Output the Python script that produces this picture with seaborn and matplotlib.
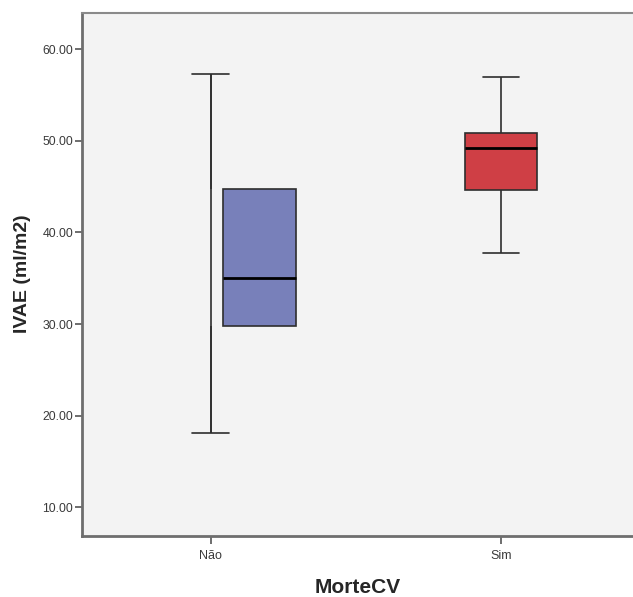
import numpy as np
import pandas as pd
import matplotlib
matplotlib.use('Agg')
import matplotlib.pyplot as plt
import matplotlib.transforms as mtransforms
import seaborn as sns

# five-number summaries (min, Q1, median, Q3, max)
groups = ['Não', 'Sim']
nao_vals = [18.1, 29.8, 35.0, 44.75, 57.3]
sim_vals = [37.7, 44.6, 49.2, 50.8, 57.0]
box_colors = ['#7880ba', '#cf3f45']
yticks = [10, 20, 30, 40, 50, 60]

df = pd.DataFrame({
    'MorteCV': [groups[0]] * len(nao_vals) + [groups[1]] * len(sim_vals),
    'IVAE': nao_vals + sim_vals,
})

sns.set_style('white')
plt.rcParams['font.family'] = ['Liberation Sans', 'DejaVu Sans']

fig = plt.figure(figsize=(6.33, 5.97), dpi=100)
ax = fig.add_axes([0.129, 0.1027, 0.871, 0.8763])
ax.set_facecolor('#f3f3f3')

sns.boxplot(data=df, x='MorteCV', y='IVAE', hue='MorteCV', order=groups,
            hue_order=groups, palette=box_colors, saturation=1, legend=False,
            width=0.25, whis=(0, 100), linecolor='#2e2e2e', linewidth=1.2,
            medianprops=dict(color='black', linewidth=2.0), ax=ax)

# the 'Não' box sits to the right of its whisker in the original
shift = 0.168
nao_med = np.median(nao_vals)
move = mtransforms.Affine2D().translate(shift, 0) + ax.transData
for p in ax.patches:
    if abs(p.get_path().vertices[:, 0].mean()) < 0.3:
        p.set_transform(move)
for ln in ax.lines:
    x = np.asarray(ln.get_xdata(), dtype=float)
    y = np.asarray(ln.get_ydata(), dtype=float)
    if len(x) and abs(x.mean()) < 0.3 and np.allclose(y, nao_med):
        ln.set_transform(move)
ax.vlines(0, min(nao_vals), max(nao_vals), color='#2e2e2e', linewidth=1.2, zorder=1)

ax.set_xlim(-0.444, 1.455)
ax.set_ylim(6.9, 64.0)
ax.set_yticks(yticks)
ax.set_yticklabels([f'{v:.2f}' for v in yticks])

for side in ['left', 'bottom']:
    ax.spines[side].set_color('#6e6e6e')
    ax.spines[side].set_linewidth(2)
ax.spines['top'].set_color('#8a8a8a')
ax.spines['top'].set_linewidth(1.5)
ax.spines['right'].set_visible(False)

ax.tick_params(axis='y', left=True, length=5, width=1.2, color='#555555',
               labelsize=8.8, labelcolor='#3a3a3a', pad=1)
ax.tick_params(axis='x', bottom=True, length=6, width=1.2, color='#555555',
               labelsize=9, labelcolor='#3a3a3a', pad=4)

ax.set_xlabel('MorteCV', fontsize=15, fontweight='bold', labelpad=12)
ax.set_ylabel('IVAE (ml/m2)', fontsize=14, fontweight='bold', labelpad=8)

fig.savefig('out.png', dpi=100)
